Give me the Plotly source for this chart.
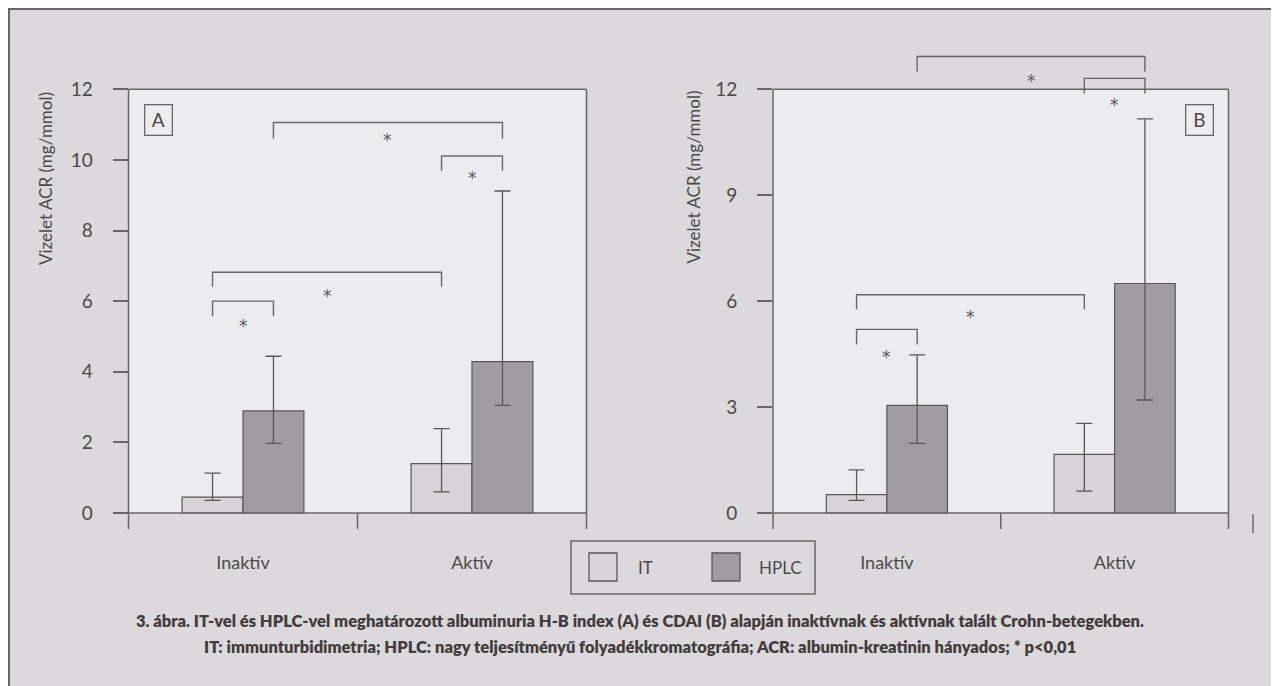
import plotly.graph_objects as go

# ---------------- data ----------------
categories = ["Inaktív", "Aktív"]
series_names = ["IT", "HPLC"]

# Panel A: H-B index
a_it_mean = [0.45, 1.40]
a_it_low = [0.36, 0.60]
a_it_high = [1.13, 2.39]
a_hplc_mean = [2.89, 4.29]
a_hplc_low = [1.97, 3.05]
a_hplc_high = [4.44, 9.12]
a_yticks = [0, 2, 4, 6, 8, 10, 12]

# Panel B: CDAI
b_it_mean = [0.52, 1.66]
b_it_low = [0.36, 0.62]
b_it_high = [1.22, 2.54]
b_hplc_mean = [3.05, 6.50]
b_hplc_low = [1.97, 3.20]
b_hplc_high = [4.48, 11.16]
b_yticks = [0, 3, 6, 9, 12]

# significance brackets: (left series, left cat, right series, right cat, bar level, leg end, star level)
a_brackets = [
    ("HPLC", 0, "HPLC", 1, 11.06, 10.60, 10.57),
    ("IT", 1, "HPLC", 1, 10.11, 9.69, 9.48),
    ("IT", 0, "IT", 1, 6.82, 6.41, 6.14),
    ("IT", 0, "HPLC", 0, 6.00, 5.57, 5.29),
]
b_brackets = [
    ("HPLC", 0, "HPLC", 1, 12.93, 12.50, 12.24),
    ("IT", 1, "HPLC", 1, 12.31, 11.88, 11.55),
    ("IT", 0, "IT", 1, 6.18, 5.77, 5.56),
    ("IT", 0, "HPLC", 0, 5.20, 4.77, 4.43),
]

y_title = "Vizelet ACR (mg/mmol)"
caption_1 = "3. ábra. IT-vel és HPLC-vel meghatározott albuminuria H-B index (A) és CDAI (B) alapján inaktívnak és aktívnak talált Crohn-betegekben."
caption_2 = "IT: immunturbidimetria; HPLC: nagy teljesítményű folyadékkromatográfia; ACR: albumin-kreatinin hányados; * p<0,01"

# ---------------- style / layout constants ----------------
PAGE_OFF = 8                     # default body margin of the html page
W, H = 1279 - PAGE_OFF, 686 - PAGE_OFF
FONT = "Lato, sans-serif"
STAR_FONT = "DejaVu Sans, sans-serif"
LC = "#6a6668"
TXT = "#4d494b"
OUTER_BG = "#f2f0f2"
FRAME_BG = "#dbd9db"
PLOT_BG = "#ecebed"
IT_COLOR = "#d6d4d6"
HPLC_COLOR = "#9f9d9f"
BAR_W = 0.266
OFFS = {"IT": -BAR_W / 2, "HPLC": BAR_W / 2}
TICK_SIZE = 18
YTICK_SIZE = 19


def px(x):
    return (x - PAGE_OFF) / W


def py(y):
    return 1 - (y - PAGE_OFF) / H


Y0PX = 513.0
PPU = (513.0 - 89.3) / 12
YMIN, YMAX = -0.45, 13.1
ydom = [py(Y0PX - YMIN * PPU), py(Y0PX - YMAX * PPU)]

panels = [
    dict(label="A", xa="x", ya="y", xdom=[px(128.5), px(586.5)],
         it=(a_it_mean, a_it_low, a_it_high), hp=(a_hplc_mean, a_hplc_low, a_hplc_high),
         yticks=a_yticks, brackets=a_brackets, box=(158, 120.5), title=(45, 179)),
    dict(label="B", xa="x2", ya="y2", xdom=[px(773), px(1228.5)],
         it=(b_it_mean, b_it_low, b_it_high), hp=(b_hplc_mean, b_hplc_low, b_hplc_high),
         yticks=b_yticks, brackets=b_brackets, box=(1199.5, 120), title=(692.5, 177)),
]

fig = go.Figure()
shapes = []
annotations = []
xpos = list(range(len(categories)))


def paper_text(x, y, text, size, **kw):
    font = dict(family=FONT, size=size, color=kw.pop("color", TXT))
    if "weight" in kw:
        font["weight"] = kw.pop("weight")
    d = dict(x=px(x), y=py(y), xref="paper", yref="paper", text=text, showarrow=False,
             xanchor="center", yanchor="middle", font=font)
    d.update(kw)
    return d


# outer frame
shapes.append(dict(type="rect", xref="paper", yref="paper", x0=px(9), x1=px(1273.5),
                   y0=py(700), y1=py(9), fillcolor=FRAME_BG, line=dict(color=LC, width=2),
                   layer="below"))

for p in panels:
    xa, ya = p["xa"], p["ya"]
    for name, (mean, low, high), color in [("IT", p["it"], IT_COLOR), ("HPLC", p["hp"], HPLC_COLOR)]:
        fig.add_trace(go.Bar(
            x=xpos, y=mean, name=name, xaxis=xa, yaxis=ya,
            width=BAR_W, offset=OFFS[name] - BAR_W / 2,
            marker=dict(color=color, line=dict(color="#5b5759", width=1.2)),
            error_y=dict(type="data", symmetric=False,
                         array=[h - m for h, m in zip(high, mean)],
                         arrayminus=[m - l for m, l in zip(mean, low)],
                         color="#5b5759", thickness=1.3, width=8),
            showlegend=False, hoverinfo="skip"))

    # brackets and stars
    for s1, c1, s2, c2, ylev, yleg, ystar in p["brackets"]:
        x1 = c1 + OFFS[s1]
        x2 = c2 + OFFS[s2]
        fig.add_trace(go.Scatter(
            x=[x1, x1, x2, x2], y=[yleg, ylev, ylev, yleg], mode="lines",
            xaxis=xa, yaxis=ya, line=dict(color=LC, width=1.4),
            showlegend=False, hoverinfo="skip"))
        annotations.append(dict(x=(x1 + x2) / 2, y=ystar, xref=xa, yref=ya, text="*",
                                showarrow=False, xanchor="center", yanchor="middle",
                                font=dict(family=STAR_FONT, size=17, color="#5b5759")))

    xd = xa + " domain"
    # plot area background
    shapes.append(dict(type="rect", xref=xd, yref=ya, x0=0, x1=1, y0=0, y1=12,
                       fillcolor=PLOT_BG, line=dict(width=0), layer="below"))
    # frame lines
    for (x0, x1, y0, y1) in [(0, 0, YMIN, 12), (1, 1, YMIN, 12), (0, 1, 12, 12), (0, 1, 0, 0)]:
        shapes.append(dict(type="line", xref=xd, yref=ya, x0=x0, x1=x1, y0=y0, y1=y1,
                           line=dict(color=LC, width=1.5)))
    # category boundary tick
    for b in [i + 0.5 for i in xpos[:-1]]:
        shapes.append(dict(type="line", xref=xa, yref=ya, x0=b, x1=b, y0=YMIN, y1=0,
                           line=dict(color=LC, width=1.5)))

    # panel label box
    bx, by = p["box"]
    annotations.append(paper_text(bx, by, p["label"], 19, width=22, height=25, borderpad=2,
                                  bordercolor=LC, borderwidth=1.3))
    # y title
    tx, ty = p["title"]
    annotations.append(paper_text(tx, ty, y_title, 17, textangle=-90))

    axn = "" if xa == "x" else "2"
    fig.layout["xaxis" + axn] = dict(
        domain=p["xdom"], anchor=ya, range=[-0.5, len(categories) - 0.5],
        tickvals=xpos, ticktext=categories, ticks="", showline=False, showgrid=False,
        zeroline=False, ticklabelstandoff=21, fixedrange=True,
        tickfont=dict(family=FONT, size=TICK_SIZE, color=TXT))
    fig.layout["yaxis" + axn] = dict(
        domain=ydom, anchor=xa, range=[YMIN, YMAX], tickvals=p["yticks"],
        ticks="outside", ticklen=15, tickwidth=1.5, tickcolor=LC, showline=False,
        showgrid=False, zeroline=False, ticklabelstandoff=16, fixedrange=True,
        tickfont=dict(family=FONT, size=YTICK_SIZE, color=TXT))

# legend (drawn manually)
shapes.append(dict(type="rect", xref="paper", yref="paper", x0=px(571), x1=px(815),
                   y0=py(594), y1=py(541), line=dict(color=LC, width=1.5), fillcolor=FRAME_BG))
leg_items = [(series_names[0], IT_COLOR, 589, 645), (series_names[1], HPLC_COLOR, 712, 780)]
for name, color, sx, tx in leg_items:
    shapes.append(dict(type="rect", xref="paper", yref="paper", x0=px(sx), x1=px(sx + 28),
                       y0=py(581), y1=py(553), fillcolor=color,
                       line=dict(color="#5b5759", width=1.3)))
    annotations.append(paper_text(tx, 567, name, 17))

# small scan artefact mark at right
shapes.append(dict(type="line", xref="paper", yref="paper", x0=px(1253), x1=px(1253),
                   y0=py(533), y1=py(514), line=dict(color="#8a8688", width=2)))

# caption
for txt, yy in [(caption_1, 621), (caption_2, 647)]:
    annotations.append(paper_text(640, yy, txt, 16.5, color="#443c3e", weight=800))

fig.update_layout(
    width=W, height=H, margin=dict(l=0, r=0, t=0, b=0),
    paper_bgcolor=OUTER_BG, plot_bgcolor="rgba(0,0,0,0)",
    barmode="overlay", showlegend=False,
    shapes=shapes, annotations=annotations,
    font=dict(family=FONT, color=TXT),
)

fig.write_html("out.html", config={"displayModeBar": False})
